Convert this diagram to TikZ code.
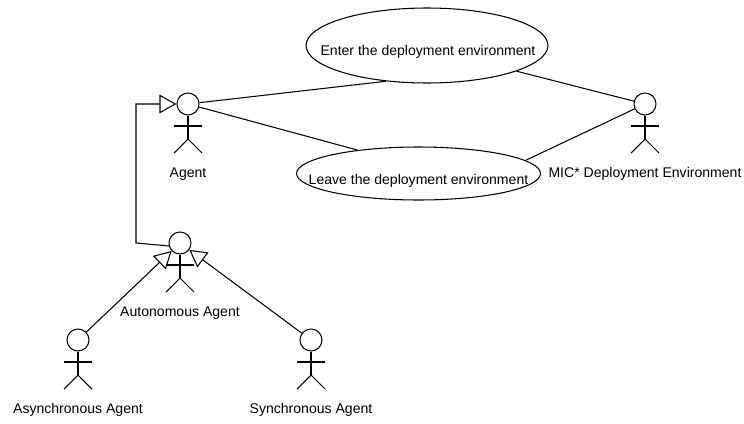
\documentclass[tikz,border=0pt]{standalone}
\usepackage{fontspec}
\setmainfont{Liberation Sans}
\usetikzlibrary{arrows.meta}
\usetikzlibrary{shapes.geometric}
\tikzset{head/.style = {draw, circle, inner sep = 0, minimum size = 0.44cm}}
\tikzset{usecase/.style = {draw, ellipse, inner sep = 0}}
\tikzset{caption/.style = {inner sep = 0, font = \fontsize{8}{9.5}\selectfont}}
\tikzset{assoc/.style = {line width = 0.6pt}}
\tikzset{generalize/.style = {line width = 0.6pt, -{Triangle[open, length = 0.34cm, width = 0.37cm]}}}

\begin{document}
\begin{tikzpicture}[x = 0.02cm, y = -0.02cm, line width = 0.6pt]
        \useasboundingbox (0, 0) rectangle (744, 423);
        % actors
        \foreach \name/\x/\y/\text in {agent/188/104/Agent,
            mic/645/104/MIC* Deployment Environment,
            autonomous/180/243/Autonomous Agent,
            async/78/340/Asynchronous Agent,
            sync/311/340/Synchronous Agent} {
          \node [head] (\name) at (\x, \y) {};
          \coordinate (\name hip) at (\x, \y + 35);
          \draw (\name) -- (\name hip);
          \draw (\x - 14, \y + 22) -- (\x + 14, \y + 22);
          \draw (\x - 14, \y + 49) -- (\name hip) -- (\x + 14, \y + 49);
          \node [caption] (\name label) at (\x, \y + 70) {\text};
        }
        % use cases
        \node [usecase, minimum width = 4.84cm, minimum height = 1.5cm] (enter) at (427, 45.5) {};
        \node [caption] (enter label) at (428, 52) {Enter the deployment environment};
        \node [usecase, minimum width = 4.88cm, minimum height = 1.06cm] (leave) at (418.5, 173.5) {};
        \node [caption] (leave label) at (418.5, 181) {Leave the deployment environment};
        % associations
        \draw [assoc] (agent) -- (enter.221);
        \draw [assoc] (agent) -- (leave.159);
        \draw [assoc] (mic) -- (enter.344);
        \draw [assoc] (mic) -- (leave.7);
        % generalizations
        \coordinate (bend) at (136, 243);
        \draw [generalize] (autonomous.195) -- (bend) |- (agent);
        \draw [generalize] (async) -- (autonomous);
        \draw [generalize] (sync) -- (autonomous);
      \end{tikzpicture}
\end{document}
